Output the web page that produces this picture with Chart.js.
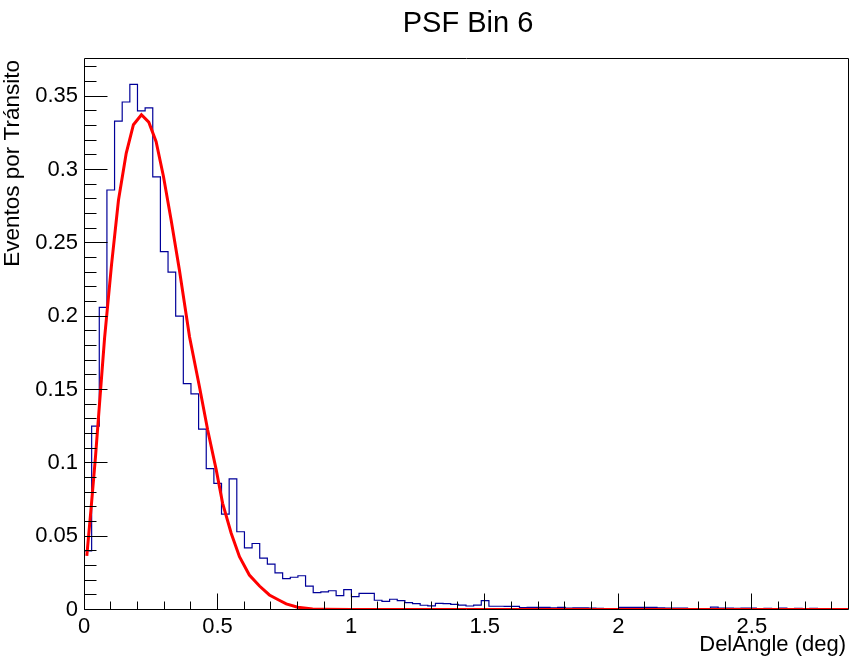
<!DOCTYPE html>
<html><head><meta charset="utf-8">
<script src="https://cdn.jsdelivr.net/npm/chart.js@4.4.0/dist/chart.umd.min.js"></script>
<style>html,body{margin:0;padding:0;background:#fff;}canvas{display:block;}</style>
</head><body>
<canvas id="c" width="854" height="663"></canvas>
<script>
const chartTitle = 'PSF Bin 6';
const xTitle = 'DelAngle (deg)';
const yTitle = 'Eventos por Tránsito';

const xMin = 0;
const xMax = 2.86;
const nBins = 100;
const yMax = 0.376;
const xMajorStep = 0.5, xMinorStep = 0.1;
const yMajorStep = 0.05, yMinorStep = 0.01;

// histogram contents (100 bins)
const binValues = [
  0.040, 0.125, 0.206, 0.286, 0.333, 0.346, 0.358, 0.340, 0.342, 0.295,
  0.244, 0.230, 0.200, 0.154, 0.147, 0.123, 0.096, 0.086, 0.065, 0.089,
  0.053, 0.042, 0.045, 0.035, 0.031, 0.025, 0.021, 0.022, 0.023, 0.016,
  0.0115, 0.012, 0.0128, 0.0094, 0.0135, 0.0088, 0.011, 0.011, 0.0063, 0.0056,
  0.007, 0.006, 0.0047, 0.004, 0.0029, 0.0025, 0.0042, 0.004, 0.0035, 0.003,
  0.0024, 0.003, 0.006, 0.0022, 0.0022, 0.0021, 0.0021, 0.0013, 0.0015, 0.0015,
  0.0015, 0.0011, 0.0015, 0.001, 0.0011, 0.0011, 0.001, 0.0007, 0.0005, 0.0005,
  0.0014, 0.0014, 0.0014, 0.0014, 0.0014, 0.0012, 0.001, 0.001, 0.001, 0.0003,
  0.0003, 0.0006, 0.0016, 0.001, 0.001, 0.0008, 0.001, 0.001, 0.0003, 0.0008,
  0.0005, 0.001, 0.0003, 0.0008, 0.0005, 0.0008, 0.0005, 0.0003, 0.0005, 0.0005
];

// fitted curve, points
const fitX = [0.0105, 0.027, 0.043, 0.058, 0.077, 0.103, 0.129, 0.158, 0.185, 0.215,
  0.2425, 0.270, 0.2975, 0.326, 0.357, 0.395, 0.432, 0.463, 0.495, 0.519,
  0.551, 0.582, 0.619, 0.657, 0.694, 0.729, 0.757, 0.800, 0.856, 0.90,
  1.0, 1.5, 2.0, 2.5, 2.86];
const fitY = [0.0365, 0.070, 0.104, 0.140, 0.185, 0.235, 0.279, 0.311, 0.3305, 0.3373,
  0.3323, 0.319, 0.2952, 0.2657, 0.2316, 0.186, 0.152, 0.1224, 0.0952, 0.0724,
  0.052, 0.036, 0.0235, 0.016, 0.0099, 0.0065, 0.0038, 0.0015, 0.0003, 0.0001,
  0, 0, 0, 0, 0];

const binWidth = (xMax - xMin) / nBins;
const histPoints = [{x: xMin, y: 0}];
binValues.forEach((v, i) => {
  histPoints.push({x: xMin + i * binWidth, y: v});
  histPoints.push({x: xMin + (i + 1) * binWidth, y: v});
});
histPoints.push({x: xMax, y: 0});
const fitPoints = fitX.map((x, i) => ({x, y: fitY[i]}));

const FONT = '"Liberation Sans", Arial, Helvetica, sans-serif';
const fmt = v => String(Number(v.toFixed(2)));

const rootFrame = {
  id: 'rootFrame',
  afterDatasetsDraw(chart) {
    const {ctx, chartArea: a, scales: {x, y}} = chart;
    const L = Math.floor(a.left) + 0.5, R = Math.floor(a.right) + 0.5;
    const T = Math.floor(a.top) + 0.5, B = Math.floor(a.bottom) + 0.5;
    ctx.save();
    ctx.strokeStyle = '#000';
    ctx.lineWidth = 1;
    ctx.beginPath();
    ctx.rect(L, T, R - L, B - T);
    const nx = Math.round((xMax - xMin) / xMinorStep);
    for (let k = 0; k <= nx; k++) {
      const v = xMin + k * xMinorStep;
      if (v > xMax + 1e-9) break;
      const px = Math.floor(x.getPixelForValue(v)) + 0.5;
      const len = (k % Math.round(xMajorStep / xMinorStep) === 0) ? 16 : 8;
      ctx.moveTo(px, B); ctx.lineTo(px, B - len);
    }
    const ny = Math.round(yMax / yMinorStep);
    for (let k = 0; k <= ny; k++) {
      const v = k * yMinorStep;
      if (v > yMax + 1e-9) break;
      const py = Math.floor(y.getPixelForValue(v)) + 0.5;
      const len = (k % Math.round(yMajorStep / yMinorStep) === 0) ? 23 : 12;
      ctx.moveTo(L, py); ctx.lineTo(L + len, py);
    }
    ctx.stroke();
    ctx.restore();
  },
  afterDraw(chart) {
    const {ctx} = chart;
    ctx.save();
    ctx.fillStyle = '#000';
    ctx.textBaseline = 'alphabetic';
    ctx.font = '29px ' + FONT;
    ctx.textAlign = 'center';
    ctx.fillText(chartTitle, 468, 32);
    ctx.font = '22px ' + FONT;
    ctx.textAlign = 'right';
    ctx.fillText(xTitle, 846, 651);
    ctx.font = '22.5px ' + FONT;
    ctx.translate(19, 60);
    ctx.rotate(-Math.PI / 2);
    ctx.textAlign = 'right';
    ctx.fillText(yTitle, 0, 0);
    ctx.restore();
  }
};

new Chart(document.getElementById('c'), {
  type: 'line',
  data: {
    datasets: [
      {label: 'fit', data: fitPoints, borderColor: '#ff0000', borderWidth: 3,
       pointRadius: 0, tension: 0, fill: false, order: 0},
      {label: 'hist', data: histPoints, borderColor: '#000099', borderWidth: 1.2,
       pointRadius: 0, tension: 0, fill: false, order: 1}
    ]
  },
  options: {
    responsive: false,
    animation: false,
    devicePixelRatio: 1,
    layout: {padding: {top: 58, left: 0, right: 6, bottom: 0}},
    plugins: {legend: {display: false}, title: {display: false}, tooltip: {enabled: false}},
    scales: {
      x: {
        type: 'linear', min: xMin, max: xMax,
        grid: {display: false, drawTicks: false},
        border: {display: false},
        ticks: {stepSize: xMajorStep, includeBounds: false, autoSkip: false, maxRotation: 0,
                color: '#000', font: {family: FONT, size: 22}, padding: 4, callback: fmt},
        afterFit(s) { s.height = 53.5; }
      },
      y: {
        type: 'linear', min: 0, max: yMax,
        grid: {display: false, drawTicks: false},
        border: {display: false},
        ticks: {stepSize: yMajorStep, includeBounds: false, autoSkip: false,
                color: '#000', font: {family: FONT, size: 22}, padding: 6, callback: fmt},
        afterFit(s) { s.width = 84; }
      }
    }
  },
  plugins: [rootFrame]
});
</script>
</body></html>
